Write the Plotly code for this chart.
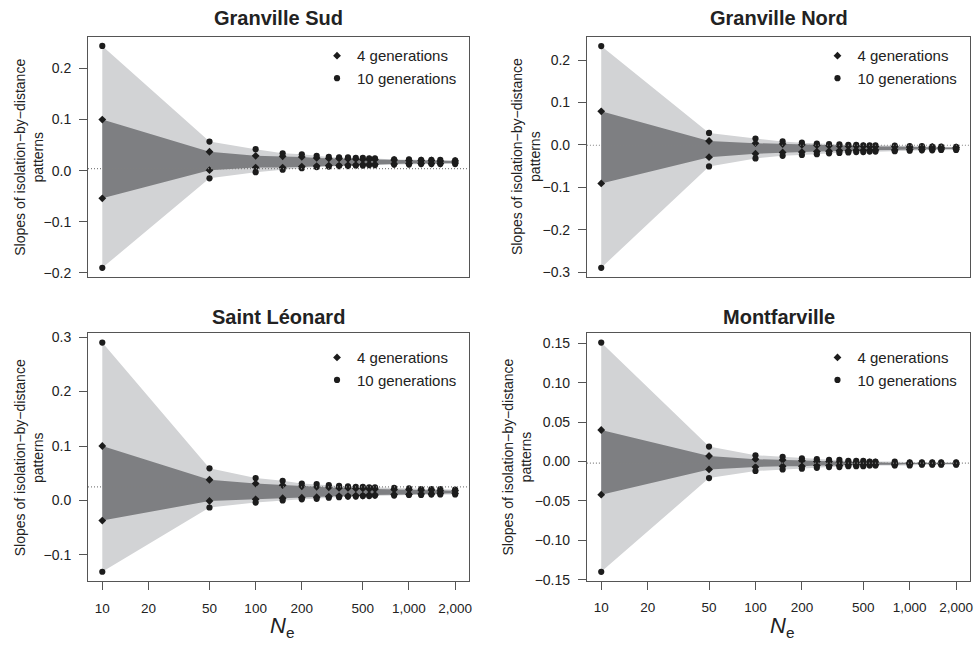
import plotly.graph_objects as go

# ---------------- data ----------------
ne_values = [10, 50, 100, 150, 200, 250, 300, 350, 400, 450, 500, 550, 600,
             800, 1000, 1200, 1400, 1600, 2000]
x_tick_vals = [10, 20, 50, 100, 200, 500, 1000, 2000]
x_tick_text = ["10", "20", "50", "100", "200", "500", "1,000", "2,000"]

site_names = ["Granville Sud", "Granville Nord", "Saint Léonard", "Montfarville"]

# Granville Sud
gs_g10_hi = [0.244, 0.057, 0.042, 0.034, 0.032, 0.029, 0.027, 0.026, 0.026, 0.025,
             0.025, 0.024, 0.024, 0.022, 0.022, 0.021, 0.021, 0.021, 0.020]
gs_g4_hi = [0.100, 0.037, 0.029, 0.028, 0.027, 0.025, 0.024, 0.024, 0.023, 0.023,
            0.022, 0.022, 0.022, 0.021, 0.020, 0.020, 0.020, 0.019, 0.019]
gs_g4_lo = [-0.054, 0.001, 0.006, 0.006, 0.008, 0.009, 0.010, 0.010, 0.011, 0.011,
            0.012, 0.012, 0.012, 0.013, 0.014, 0.014, 0.014, 0.014, 0.015]
gs_g10_lo = [-0.190, -0.015, -0.003, 0.002, 0.005, 0.007, 0.008, 0.009, 0.009, 0.010,
             0.010, 0.011, 0.011, 0.012, 0.012, 0.013, 0.013, 0.013, 0.013]
gs_observed = 0.004

# Granville Nord
gn_g10_hi = [0.233, 0.028, 0.015, 0.008, 0.005, 0.003, 0.002, 0.001, 0.000, 0.000,
             -0.001, -0.001, -0.001, -0.002, -0.003, -0.003, -0.004, -0.004, -0.005]
gn_g4_hi = [0.079, 0.009, 0.004, 0.002, 0.000, -0.001, -0.002, -0.002, -0.003, -0.003,
            -0.003, -0.004, -0.004, -0.004, -0.005, -0.005, -0.005, -0.006, -0.006]
gn_g4_lo = [-0.091, -0.029, -0.021, -0.018, -0.017, -0.016, -0.015, -0.014, -0.014, -0.013,
            -0.013, -0.013, -0.012, -0.012, -0.011, -0.011, -0.010, -0.010, -0.010]
gn_g10_lo = [-0.290, -0.051, -0.032, -0.026, -0.024, -0.022, -0.020, -0.019, -0.018, -0.017,
             -0.017, -0.016, -0.016, -0.015, -0.014, -0.013, -0.013, -0.012, -0.012]
gn_observed = -0.001

# Saint Léonard
sl_g10_hi = [0.290, 0.059, 0.041, 0.036, 0.031, 0.030, 0.028, 0.027, 0.026, 0.025,
             0.025, 0.024, 0.024, 0.023, 0.022, 0.021, 0.021, 0.021, 0.020]
sl_g4_hi = [0.100, 0.038, 0.031, 0.028, 0.026, 0.025, 0.024, 0.023, 0.023, 0.022,
            0.022, 0.021, 0.021, 0.020, 0.020, 0.019, 0.019, 0.018, 0.018]
sl_g4_lo = [-0.037, -0.001, 0.002, 0.004, 0.005, 0.006, 0.007, 0.008, 0.008, 0.009,
            0.009, 0.010, 0.010, 0.011, 0.011, 0.012, 0.012, 0.013, 0.013]
sl_g10_lo = [-0.131, -0.013, -0.004, 0.000, 0.002, 0.003, 0.005, 0.006, 0.007, 0.007,
             0.008, 0.008, 0.009, 0.009, 0.010, 0.010, 0.011, 0.011, 0.011]
sl_observed = 0.025

# Montfarville
mf_g10_hi = [0.151, 0.019, 0.008, 0.006, 0.004, 0.003, 0.002, 0.002, 0.001, 0.001,
             0.001, 0.000, 0.000, 0.000, -0.001, -0.001, -0.001, -0.001, -0.001]
mf_g4_hi = [0.040, 0.007, 0.003, 0.002, 0.001, 0.000, 0.000, -0.001, -0.001, -0.001,
            -0.001, -0.001, -0.001, -0.002, -0.002, -0.002, -0.002, -0.002, -0.002]
mf_g4_lo = [-0.042, -0.010, -0.007, -0.006, -0.006, -0.005, -0.005, -0.005, -0.004, -0.004,
            -0.004, -0.004, -0.004, -0.004, -0.003, -0.003, -0.003, -0.003, -0.003]
mf_g10_lo = [-0.140, -0.021, -0.012, -0.010, -0.009, -0.008, -0.007, -0.007, -0.006, -0.006,
             -0.006, -0.005, -0.005, -0.005, -0.005, -0.004, -0.004, -0.004, -0.004]
mf_observed = -0.002

y_ticks_gs = [-0.2, -0.1, 0.0, 0.1, 0.2]
y_ticks_gn = [-0.3, -0.2, -0.1, 0.0, 0.1, 0.2]
y_ticks_sl = [-0.1, 0.0, 0.1, 0.2, 0.3]
y_ticks_mf = [-0.15, -0.10, -0.05, 0.00, 0.05, 0.10, 0.15]

legend_labels = ["4 generations", "10 generations"]
y_title = "Slopes of isolation\u2212by\u2212distance<br>patterns"

# ---------------- styling / layout ----------------
W, H = 978, 648
FONT = "Liberation Sans, Arial, Helvetica, sans-serif"
TXT = "#222222"
AX = "#555555"
LIGHT = "#d2d3d5"
DARK = "#7e7f82"
MK = "#1c1c1c"

panels = [
    dict(name=site_names[0], hi10=gs_g10_hi, hi4=gs_g4_hi, lo4=gs_g4_lo, lo10=gs_g10_lo,
         obs=gs_observed, yt=y_ticks_gs, fmt=".1f", yr=[-0.2077, 0.262],
         px=(88.3, 470.7), py=(33.3, 277.6), xlabels=False, ytx=29, legx=318, legy=36,
         tty=14),
    dict(name=site_names[1], hi10=gn_g10_hi, hi4=gn_g4_hi, lo4=gn_g4_lo, lo10=gn_g10_lo,
         obs=gn_observed, yt=y_ticks_gn, fmt=".1f", yr=[-0.311, 0.255],
         px=(588.7, 973.3), py=(33.3, 277.4), xlabels=False, ytx=527, legx=820, legy=36,
         tty=14),
    dict(name=site_names[2], hi10=sl_g10_hi, hi4=sl_g4_hi, lo4=sl_g4_lo, lo10=sl_g10_lo,
         obs=sl_observed, yt=y_ticks_sl, fmt=".1f", yr=[-0.1486, 0.307],
         px=(88.3, 470.7), py=(335.0, 587.3), xlabels=True, ytx=29, legx=318, legy=343,
         tty=318),
    dict(name=site_names[3], hi10=mf_g10_hi, hi4=mf_g4_hi, lo4=mf_g4_lo, lo10=mf_g10_lo,
         obs=mf_observed, yt=y_ticks_mf, fmt=".2f", yr=[-0.1515, 0.1627],
         px=(588.7, 973.3), py=(335.0, 586.9), xlabels=True, ytx=519, legx=820, legy=343,
         tty=318),
]

fig = go.Figure()
annotations = []
shapes = []
layout = {}

for i, p in enumerate(panels):
    k = "" if i == 0 else str(i + 1)
    xa, ya = "x" + k, "y" + k
    leg = "legend" + k
    xs = ne_values + ne_values[::-1]

    fig.add_trace(go.Scatter(x=xs, y=p["hi10"] + p["lo10"][::-1], xaxis=xa, yaxis=ya,
                             fill="toself", fillcolor=LIGHT, mode="lines",
                             line=dict(width=0, color=LIGHT), showlegend=False,
                             hoverinfo="skip"))
    fig.add_trace(go.Scatter(x=xs, y=p["hi4"] + p["lo4"][::-1], xaxis=xa, yaxis=ya,
                             fill="toself", fillcolor=DARK, mode="lines",
                             line=dict(width=0, color=DARK), showlegend=False,
                             hoverinfo="skip"))
    fig.add_trace(go.Scatter(x=ne_values + ne_values, y=p["hi4"] + p["lo4"],
                             xaxis=xa, yaxis=ya, mode="markers", name=legend_labels[0],
                             marker=dict(symbol="diamond", size=6, color=MK),
                             legend=leg))
    fig.add_trace(go.Scatter(x=ne_values + ne_values, y=p["hi10"] + p["lo10"],
                             xaxis=xa, yaxis=ya, mode="markers", name=legend_labels[1],
                             marker=dict(symbol="circle", size=6.2, color=MK),
                             legend=leg))

    dx = [p["px"][0] / W, p["px"][1] / W]
    dy = [1 - p["py"][1] / H, 1 - p["py"][0] / H]

    layout["xaxis" + k] = dict(
        domain=dx, anchor=ya, type="log", range=[0.907, 3.393],
        showline=True, linecolor=AX, linewidth=1, mirror=True,
        showgrid=False, zeroline=False,
        tickmode="array", tickvals=x_tick_vals, ticktext=x_tick_text,
        ticks="outside" if p["xlabels"] else "", ticklen=8, tickcolor=AX, tickwidth=1,
        showticklabels=p["xlabels"], ticklabelstandoff=6,
        tickfont=dict(family=FONT, size=13.5, color=TXT))
    layout["yaxis" + k] = dict(
        domain=dy, anchor=xa, range=p["yr"],
        showline=True, linecolor=AX, linewidth=1, mirror=True,
        showgrid=False, zeroline=False,
        tickmode="array", tickvals=p["yt"], tickformat=p["fmt"],
        ticks="outside", ticklen=8, tickcolor=AX, tickwidth=1, ticklabelstandoff=5,
        tickfont=dict(family=FONT, size=14, color=TXT))

    layout[leg] = dict(x=p["legx"] / W, y=1 - p["legy"] / H, xanchor="left", yanchor="top",
                       bgcolor="rgba(0,0,0,0)", borderwidth=0,
                       font=dict(family=FONT, size=15, color=TXT),
                       itemwidth=30, tracegroupgap=0)

    shapes.append(dict(type="line", xref=xa + " domain", yref=ya, x0=0, x1=1,
                       y0=p["obs"], y1=p["obs"], layer="above",
                       line=dict(color="#808080", width=1.2, dash="1px,2px")))

    cx = (p["px"][0] + p["px"][1]) / 2
    annotations.append(dict(text="<b>" + p["name"] + "</b>", xref="paper", yref="paper",
                            x=cx / W, y=1 - p["tty"] / H, xanchor="center",
                            yanchor="middle", showarrow=False,
                            font=dict(family=FONT, size=20, color=TXT)))
    cy = (p["py"][0] + p["py"][1]) / 2
    annotations.append(dict(text=y_title, xref="paper", yref="paper",
                            x=p["ytx"] / W, y=1 - cy / H, xanchor="center",
                            yanchor="middle", textangle=-90, showarrow=False,
                            font=dict(family=FONT, size=14, color=TXT)))
    if p["xlabels"]:
        annotations.append(dict(text="<i>N</i><sub>e</sub>", xref="paper", yref="paper",
                                x=(cx + 3) / W, y=1 - 634 / H, xanchor="center",
                                yanchor="middle", showarrow=False,
                                font=dict(family=FONT, size=22, color=TXT)))

fig.update_layout(width=W, height=H, margin=dict(l=0, r=0, t=0, b=0),
                  paper_bgcolor="white", plot_bgcolor="white",
                  font=dict(family=FONT, color=TXT),
                  annotations=annotations, shapes=shapes, **layout)

fig.write_html("out.html", config={"displayModeBar": False},
               post_script="document.body.style.margin='0px';"
                           "document.body.style.overflow='hidden';")
